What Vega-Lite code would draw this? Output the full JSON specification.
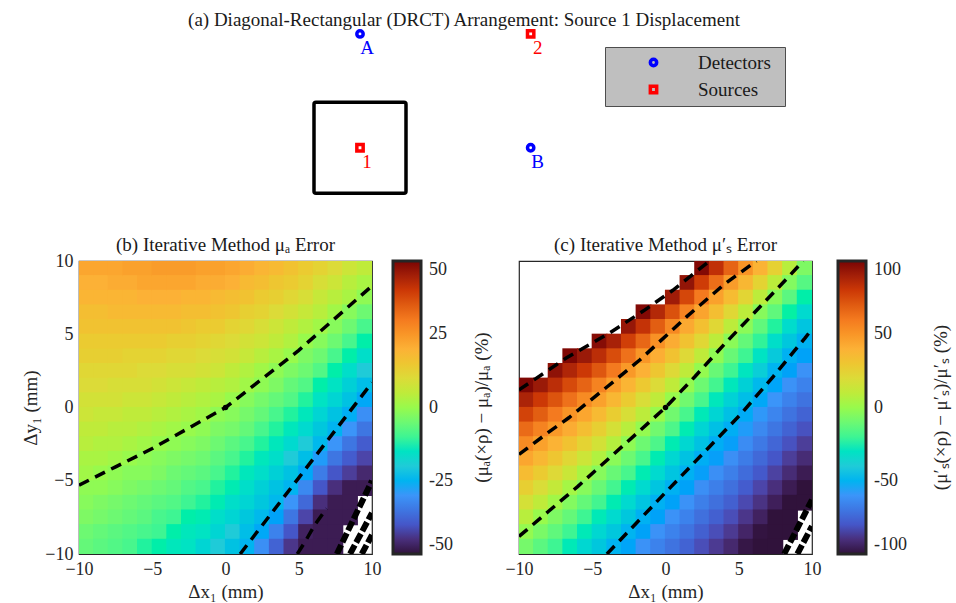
{
  "$schema": "https://vega.github.io/schema/vega-lite/v6.json",
  "padding": {"left": 21, "top": 10, "right": 0, "bottom": 0},
  "background": "white",
  "config": {
    "font": "Liberation Serif",
    "view": {"stroke": "#262626", "strokeWidth": 1.2},
    "axis": {"labelFont": "Liberation Serif", "labelFontSize": 18, "labelColor": "#262626", "titleFont": "Liberation Serif", "titleFontSize": 19, "titleFontWeight": "normal", "titleColor": "#262626", "ticks": false, "domain": false, "grid": false, "labelPadding": 6, "labelFlush": false, "labelOverlap": false},
    "legend": {"labelFont": "Liberation Serif", "labelFontSize": 18, "labelColor": "#262626", "titleFont": "Liberation Serif", "titleFontSize": 19, "titleFontWeight": "normal", "titleColor": "#262626"},
    "title": {"font": "Liberation Serif", "fontSize": 19, "fontWeight": "normal", "color": "#1a1a1a"}
  },
  "datasets": {
    "probes": [
      {"label": "A", "type": "Detectors", "x": 0, "y": 25},
      {"label": "B", "type": "Detectors", "x": 37.1, "y": 0},
      {"label": "1", "type": "Sources", "x": 0, "y": 0},
      {"label": "2", "type": "Sources", "x": 37.1, "y": 25}
    ],
    "b": [
      {"x":-9.5,"y":9.5,"v":22},{"x":-9.5,"y":8.5,"v":20},{"x":-9.5,"y":7.5,"v":19},{"x":-9.5,"y":6.5,"v":17},{"x":-9.5,"y":5.5,"v":16},{"x":-9.5,"y":4.5,"v":14},{"x":-9.5,"y":3.5,"v":13},{"x":-9.5,"y":2.5,"v":11},{"x":-9.5,"y":1.5,"v":10},{"x":-9.5,"y":0.5,"v":8},{"x":-9.5,"y":-0.5,"v":7},{"x":-9.5,"y":-1.5,"v":5},{"x":-9.5,"y":-2.5,"v":4},{"x":-9.5,"y":-3.5,"v":2},{"x":-9.5,"y":-4.5,"v":1},{"x":-9.5,"y":-5.5,"v":-1},{"x":-9.5,"y":-6.5,"v":-2},{"x":-9.5,"y":-7.5,"v":-3},{"x":-9.5,"y":-8.5,"v":-5},{"x":-9.5,"y":-9.5,"v":-6},
      {"x":-8.5,"y":9.5,"v":22},{"x":-8.5,"y":8.5,"v":20},{"x":-8.5,"y":7.5,"v":19},{"x":-8.5,"y":6.5,"v":17},{"x":-8.5,"y":5.5,"v":16},{"x":-8.5,"y":4.5,"v":14},{"x":-8.5,"y":3.5,"v":13},{"x":-8.5,"y":2.5,"v":11},{"x":-8.5,"y":1.5,"v":10},{"x":-8.5,"y":0.5,"v":8},{"x":-8.5,"y":-0.5,"v":6},{"x":-8.5,"y":-1.5,"v":5},{"x":-8.5,"y":-2.5,"v":3},{"x":-8.5,"y":-3.5,"v":2},{"x":-8.5,"y":-4.5,"v":0},{"x":-8.5,"y":-5.5,"v":-1},{"x":-8.5,"y":-6.5,"v":-3},{"x":-8.5,"y":-7.5,"v":-4},{"x":-8.5,"y":-8.5,"v":-6},{"x":-8.5,"y":-9.5,"v":-7},
      {"x":-7.5,"y":9.5,"v":22},{"x":-7.5,"y":8.5,"v":21},{"x":-7.5,"y":7.5,"v":19},{"x":-7.5,"y":6.5,"v":18},{"x":-7.5,"y":5.5,"v":16},{"x":-7.5,"y":4.5,"v":14},{"x":-7.5,"y":3.5,"v":13},{"x":-7.5,"y":2.5,"v":11},{"x":-7.5,"y":1.5,"v":9},{"x":-7.5,"y":0.5,"v":8},{"x":-7.5,"y":-0.5,"v":6},{"x":-7.5,"y":-1.5,"v":4},{"x":-7.5,"y":-2.5,"v":3},{"x":-7.5,"y":-3.5,"v":1},{"x":-7.5,"y":-4.5,"v":-1},{"x":-7.5,"y":-5.5,"v":-2},{"x":-7.5,"y":-6.5,"v":-4},{"x":-7.5,"y":-7.5,"v":-5},{"x":-7.5,"y":-8.5,"v":-7},{"x":-7.5,"y":-9.5,"v":-8},
      {"x":-6.5,"y":9.5,"v":23},{"x":-6.5,"y":8.5,"v":21},{"x":-6.5,"y":7.5,"v":19},{"x":-6.5,"y":6.5,"v":18},{"x":-6.5,"y":5.5,"v":16},{"x":-6.5,"y":4.5,"v":14},{"x":-6.5,"y":3.5,"v":12},{"x":-6.5,"y":2.5,"v":11},{"x":-6.5,"y":1.5,"v":9},{"x":-6.5,"y":0.5,"v":7},{"x":-6.5,"y":-0.5,"v":5},{"x":-6.5,"y":-1.5,"v":4},{"x":-6.5,"y":-2.5,"v":2},{"x":-6.5,"y":-3.5,"v":0},{"x":-6.5,"y":-4.5,"v":-2},{"x":-6.5,"y":-5.5,"v":-3},{"x":-6.5,"y":-6.5,"v":-5},{"x":-6.5,"y":-7.5,"v":-6},{"x":-6.5,"y":-8.5,"v":-8},{"x":-6.5,"y":-9.5,"v":-9},
      {"x":-5.5,"y":9.5,"v":23},{"x":-5.5,"y":8.5,"v":22},{"x":-5.5,"y":7.5,"v":20},{"x":-5.5,"y":6.5,"v":18},{"x":-5.5,"y":5.5,"v":16},{"x":-5.5,"y":4.5,"v":14},{"x":-5.5,"y":3.5,"v":12},{"x":-5.5,"y":2.5,"v":10},{"x":-5.5,"y":1.5,"v":9},{"x":-5.5,"y":0.5,"v":7},{"x":-5.5,"y":-0.5,"v":5},{"x":-5.5,"y":-1.5,"v":3},{"x":-5.5,"y":-2.5,"v":1},{"x":-5.5,"y":-3.5,"v":-1},{"x":-5.5,"y":-4.5,"v":-2},{"x":-5.5,"y":-5.5,"v":-4},{"x":-5.5,"y":-6.5,"v":-6},{"x":-5.5,"y":-7.5,"v":-7},{"x":-5.5,"y":-8.5,"v":-9},{"x":-5.5,"y":-9.5,"v":-11},
      {"x":-4.5,"y":9.5,"v":24},{"x":-4.5,"y":8.5,"v":22},{"x":-4.5,"y":7.5,"v":20},{"x":-4.5,"y":6.5,"v":18},{"x":-4.5,"y":5.5,"v":16},{"x":-4.5,"y":4.5,"v":14},{"x":-4.5,"y":3.5,"v":12},{"x":-4.5,"y":2.5,"v":10},{"x":-4.5,"y":1.5,"v":8},{"x":-4.5,"y":0.5,"v":6},{"x":-4.5,"y":-0.5,"v":4},{"x":-4.5,"y":-1.5,"v":2},{"x":-4.5,"y":-2.5,"v":0},{"x":-4.5,"y":-3.5,"v":-2},{"x":-4.5,"y":-4.5,"v":-3},{"x":-4.5,"y":-5.5,"v":-5},{"x":-4.5,"y":-6.5,"v":-7},{"x":-4.5,"y":-7.5,"v":-9},{"x":-4.5,"y":-8.5,"v":-10},{"x":-4.5,"y":-9.5,"v":-12},
      {"x":-3.5,"y":9.5,"v":24},{"x":-3.5,"y":8.5,"v":22},{"x":-3.5,"y":7.5,"v":20},{"x":-3.5,"y":6.5,"v":18},{"x":-3.5,"y":5.5,"v":16},{"x":-3.5,"y":4.5,"v":13},{"x":-3.5,"y":3.5,"v":11},{"x":-3.5,"y":2.5,"v":9},{"x":-3.5,"y":1.5,"v":7},{"x":-3.5,"y":0.5,"v":5},{"x":-3.5,"y":-0.5,"v":3},{"x":-3.5,"y":-1.5,"v":1},{"x":-3.5,"y":-2.5,"v":-1},{"x":-3.5,"y":-3.5,"v":-3},{"x":-3.5,"y":-4.5,"v":-5},{"x":-3.5,"y":-5.5,"v":-6},{"x":-3.5,"y":-6.5,"v":-8},{"x":-3.5,"y":-7.5,"v":-10},{"x":-3.5,"y":-8.5,"v":-12},{"x":-3.5,"y":-9.5,"v":-14},
      {"x":-2.5,"y":9.5,"v":24},{"x":-2.5,"y":8.5,"v":22},{"x":-2.5,"y":7.5,"v":19},{"x":-2.5,"y":6.5,"v":17},{"x":-2.5,"y":5.5,"v":15},{"x":-2.5,"y":4.5,"v":13},{"x":-2.5,"y":3.5,"v":11},{"x":-2.5,"y":2.5,"v":9},{"x":-2.5,"y":1.5,"v":6},{"x":-2.5,"y":0.5,"v":4},{"x":-2.5,"y":-0.5,"v":2},{"x":-2.5,"y":-1.5,"v":0},{"x":-2.5,"y":-2.5,"v":-2},{"x":-2.5,"y":-3.5,"v":-4},{"x":-2.5,"y":-4.5,"v":-6},{"x":-2.5,"y":-5.5,"v":-8},{"x":-2.5,"y":-6.5,"v":-10},{"x":-2.5,"y":-7.5,"v":-12},{"x":-2.5,"y":-8.5,"v":-14},{"x":-2.5,"y":-9.5,"v":-15},
      {"x":-1.5,"y":9.5,"v":23},{"x":-1.5,"y":8.5,"v":21},{"x":-1.5,"y":7.5,"v":19},{"x":-1.5,"y":6.5,"v":17},{"x":-1.5,"y":5.5,"v":14},{"x":-1.5,"y":4.5,"v":12},{"x":-1.5,"y":3.5,"v":10},{"x":-1.5,"y":2.5,"v":8},{"x":-1.5,"y":1.5,"v":5},{"x":-1.5,"y":0.5,"v":3},{"x":-1.5,"y":-0.5,"v":1},{"x":-1.5,"y":-1.5,"v":-1},{"x":-1.5,"y":-2.5,"v":-3},{"x":-1.5,"y":-3.5,"v":-5},{"x":-1.5,"y":-4.5,"v":-7},{"x":-1.5,"y":-5.5,"v":-9},{"x":-1.5,"y":-6.5,"v":-11},{"x":-1.5,"y":-7.5,"v":-13},{"x":-1.5,"y":-8.5,"v":-15},{"x":-1.5,"y":-9.5,"v":-18},
      {"x":-0.5,"y":9.5,"v":23},{"x":-0.5,"y":8.5,"v":21},{"x":-0.5,"y":7.5,"v":18},{"x":-0.5,"y":6.5,"v":16},{"x":-0.5,"y":5.5,"v":14},{"x":-0.5,"y":4.5,"v":11},{"x":-0.5,"y":3.5,"v":9},{"x":-0.5,"y":2.5,"v":7},{"x":-0.5,"y":1.5,"v":4},{"x":-0.5,"y":0.5,"v":2},{"x":-0.5,"y":-0.5,"v":-1},{"x":-0.5,"y":-1.5,"v":-3},{"x":-0.5,"y":-2.5,"v":-5},{"x":-0.5,"y":-3.5,"v":-7},{"x":-0.5,"y":-4.5,"v":-9},{"x":-0.5,"y":-5.5,"v":-11},{"x":-0.5,"y":-6.5,"v":-13},{"x":-0.5,"y":-7.5,"v":-16},{"x":-0.5,"y":-8.5,"v":-18},{"x":-0.5,"y":-9.5,"v":-20},
      {"x":0.5,"y":9.5,"v":22},{"x":0.5,"y":8.5,"v":20},{"x":0.5,"y":7.5,"v":17},{"x":0.5,"y":6.5,"v":15},{"x":0.5,"y":5.5,"v":12},{"x":0.5,"y":4.5,"v":10},{"x":0.5,"y":3.5,"v":8},{"x":0.5,"y":2.5,"v":5},{"x":0.5,"y":1.5,"v":3},{"x":0.5,"y":0.5,"v":0},{"x":0.5,"y":-0.5,"v":-2},{"x":0.5,"y":-1.5,"v":-4},{"x":0.5,"y":-2.5,"v":-7},{"x":0.5,"y":-3.5,"v":-9},{"x":0.5,"y":-4.5,"v":-11},{"x":0.5,"y":-5.5,"v":-13},{"x":0.5,"y":-6.5,"v":-16},{"x":0.5,"y":-7.5,"v":-18},{"x":0.5,"y":-8.5,"v":-20},{"x":0.5,"y":-9.5,"v":-22},
      {"x":1.5,"y":9.5,"v":21},{"x":1.5,"y":8.5,"v":18},{"x":1.5,"y":7.5,"v":16},{"x":1.5,"y":6.5,"v":13},{"x":1.5,"y":5.5,"v":11},{"x":1.5,"y":4.5,"v":8},{"x":1.5,"y":3.5,"v":6},{"x":1.5,"y":2.5,"v":3},{"x":1.5,"y":1.5,"v":1},{"x":1.5,"y":0.5,"v":-2},{"x":1.5,"y":-0.5,"v":-4},{"x":1.5,"y":-1.5,"v":-6},{"x":1.5,"y":-2.5,"v":-9},{"x":1.5,"y":-3.5,"v":-11},{"x":1.5,"y":-4.5,"v":-14},{"x":1.5,"y":-5.5,"v":-16},{"x":1.5,"y":-6.5,"v":-18},{"x":1.5,"y":-7.5,"v":-21},{"x":1.5,"y":-8.5,"v":-23},{"x":1.5,"y":-9.5,"v":-25},
      {"x":2.5,"y":9.5,"v":19},{"x":2.5,"y":8.5,"v":17},{"x":2.5,"y":7.5,"v":14},{"x":2.5,"y":6.5,"v":12},{"x":2.5,"y":5.5,"v":9},{"x":2.5,"y":4.5,"v":7},{"x":2.5,"y":3.5,"v":4},{"x":2.5,"y":2.5,"v":1},{"x":2.5,"y":1.5,"v":-1},{"x":2.5,"y":0.5,"v":-4},{"x":2.5,"y":-0.5,"v":-6},{"x":2.5,"y":-1.5,"v":-9},{"x":2.5,"y":-2.5,"v":-11},{"x":2.5,"y":-3.5,"v":-14},{"x":2.5,"y":-4.5,"v":-16},{"x":2.5,"y":-5.5,"v":-19},{"x":2.5,"y":-6.5,"v":-21},{"x":2.5,"y":-7.5,"v":-24},{"x":2.5,"y":-8.5,"v":-27},{"x":2.5,"y":-9.5,"v":-31},
      {"x":3.5,"y":9.5,"v":18},{"x":3.5,"y":8.5,"v":15},{"x":3.5,"y":7.5,"v":13},{"x":3.5,"y":6.5,"v":10},{"x":3.5,"y":5.5,"v":7},{"x":3.5,"y":4.5,"v":5},{"x":3.5,"y":3.5,"v":2},{"x":3.5,"y":2.5,"v":-1},{"x":3.5,"y":1.5,"v":-3},{"x":3.5,"y":0.5,"v":-6},{"x":3.5,"y":-0.5,"v":-9},{"x":3.5,"y":-1.5,"v":-11},{"x":3.5,"y":-2.5,"v":-14},{"x":3.5,"y":-3.5,"v":-16},{"x":3.5,"y":-4.5,"v":-19},{"x":3.5,"y":-5.5,"v":-22},{"x":3.5,"y":-6.5,"v":-24},{"x":3.5,"y":-7.5,"v":-28},{"x":3.5,"y":-8.5,"v":-33},{"x":3.5,"y":-9.5,"v":-38},
      {"x":4.5,"y":9.5,"v":16},{"x":4.5,"y":8.5,"v":14},{"x":4.5,"y":7.5,"v":11},{"x":4.5,"y":6.5,"v":8},{"x":4.5,"y":5.5,"v":5},{"x":4.5,"y":4.5,"v":3},{"x":4.5,"y":3.5,"v":0},{"x":4.5,"y":2.5,"v":-3},{"x":4.5,"y":1.5,"v":-6},{"x":4.5,"y":0.5,"v":-8},{"x":4.5,"y":-0.5,"v":-11},{"x":4.5,"y":-1.5,"v":-14},{"x":4.5,"y":-2.5,"v":-17},{"x":4.5,"y":-3.5,"v":-20},{"x":4.5,"y":-4.5,"v":-22},{"x":4.5,"y":-5.5,"v":-25},{"x":4.5,"y":-6.5,"v":-30},{"x":4.5,"y":-7.5,"v":-35},{"x":4.5,"y":-8.5,"v":-40},{"x":4.5,"y":-9.5,"v":-44},
      {"x":5.5,"y":9.5,"v":14},{"x":5.5,"y":8.5,"v":12},{"x":5.5,"y":7.5,"v":9},{"x":5.5,"y":6.5,"v":6},{"x":5.5,"y":5.5,"v":3},{"x":5.5,"y":4.5,"v":0},{"x":5.5,"y":3.5,"v":-3},{"x":5.5,"y":2.5,"v":-5},{"x":5.5,"y":1.5,"v":-8},{"x":5.5,"y":0.5,"v":-11},{"x":5.5,"y":-0.5,"v":-14},{"x":5.5,"y":-1.5,"v":-17},{"x":5.5,"y":-2.5,"v":-20},{"x":5.5,"y":-3.5,"v":-23},{"x":5.5,"y":-4.5,"v":-27},{"x":5.5,"y":-5.5,"v":-32},{"x":5.5,"y":-6.5,"v":-37},{"x":5.5,"y":-7.5,"v":-42},{"x":5.5,"y":-8.5,"v":-47},{"x":5.5,"y":-9.5,"v":-48},
      {"x":6.5,"y":9.5,"v":12},{"x":6.5,"y":8.5,"v":9},{"x":6.5,"y":7.5,"v":6},{"x":6.5,"y":6.5,"v":4},{"x":6.5,"y":5.5,"v":1},{"x":6.5,"y":4.5,"v":-2},{"x":6.5,"y":3.5,"v":-5},{"x":6.5,"y":2.5,"v":-8},{"x":6.5,"y":1.5,"v":-12},{"x":6.5,"y":0.5,"v":-15},{"x":6.5,"y":-0.5,"v":-18},{"x":6.5,"y":-1.5,"v":-21},{"x":6.5,"y":-2.5,"v":-24},{"x":6.5,"y":-3.5,"v":-29},{"x":6.5,"y":-4.5,"v":-34},{"x":6.5,"y":-5.5,"v":-40},{"x":6.5,"y":-6.5,"v":-45},{"x":6.5,"y":-7.5,"v":-48},{"x":6.5,"y":-8.5,"v":-48},{"x":6.5,"y":-9.5,"v":-48},
      {"x":7.5,"y":9.5,"v":10},{"x":7.5,"y":8.5,"v":7},{"x":7.5,"y":7.5,"v":4},{"x":7.5,"y":6.5,"v":1},{"x":7.5,"y":5.5,"v":-2},{"x":7.5,"y":4.5,"v":-5},{"x":7.5,"y":3.5,"v":-9},{"x":7.5,"y":2.5,"v":-12},{"x":7.5,"y":1.5,"v":-15},{"x":7.5,"y":0.5,"v":-18},{"x":7.5,"y":-0.5,"v":-22},{"x":7.5,"y":-1.5,"v":-25},{"x":7.5,"y":-2.5,"v":-30},{"x":7.5,"y":-3.5,"v":-35},{"x":7.5,"y":-4.5,"v":-40},{"x":7.5,"y":-5.5,"v":-45},{"x":7.5,"y":-6.5,"v":-48},{"x":7.5,"y":-7.5,"v":-48},{"x":7.5,"y":-8.5,"v":-48},{"x":7.5,"y":-9.5,"v":-48},
      {"x":8.5,"y":9.5,"v":7},{"x":8.5,"y":8.5,"v":4},{"x":8.5,"y":7.5,"v":2},{"x":8.5,"y":6.5,"v":-2},{"x":8.5,"y":5.5,"v":-5},{"x":8.5,"y":4.5,"v":-9},{"x":8.5,"y":3.5,"v":-12},{"x":8.5,"y":2.5,"v":-16},{"x":8.5,"y":1.5,"v":-19},{"x":8.5,"y":0.5,"v":-22},{"x":8.5,"y":-0.5,"v":-26},{"x":8.5,"y":-1.5,"v":-30},{"x":8.5,"y":-2.5,"v":-35},{"x":8.5,"y":-3.5,"v":-39},{"x":8.5,"y":-4.5,"v":-43},{"x":8.5,"y":-5.5,"v":-48},{"x":8.5,"y":-6.5,"v":-48},{"x":8.5,"y":-7.5,"v":-48},
      {"x":9.5,"y":9.5,"v":5},{"x":9.5,"y":8.5,"v":2},{"x":9.5,"y":7.5,"v":-1},{"x":9.5,"y":6.5,"v":-5},{"x":9.5,"y":5.5,"v":-9},{"x":9.5,"y":4.5,"v":-12},{"x":9.5,"y":3.5,"v":-16},{"x":9.5,"y":2.5,"v":-20},{"x":9.5,"y":1.5,"v":-23},{"x":9.5,"y":0.5,"v":-27},{"x":9.5,"y":-0.5,"v":-31},{"x":9.5,"y":-1.5,"v":-35},{"x":9.5,"y":-2.5,"v":-39},{"x":9.5,"y":-3.5,"v":-42},{"x":9.5,"y":-4.5,"v":-46},{"x":9.5,"y":-5.5,"v":-48}
    ],
    "c": [
      {"x":-9.5,"y":1.5,"v":99},{"x":-9.5,"y":0.5,"v":88},{"x":-9.5,"y":-0.5,"v":77},{"x":-9.5,"y":-1.5,"v":65},{"x":-9.5,"y":-2.5,"v":54},{"x":-9.5,"y":-3.5,"v":44},{"x":-9.5,"y":-4.5,"v":35},{"x":-9.5,"y":-5.5,"v":26},{"x":-9.5,"y":-6.5,"v":17},{"x":-9.5,"y":-7.5,"v":8},{"x":-9.5,"y":-8.5,"v":-1},{"x":-9.5,"y":-9.5,"v":-8},
      {"x":-8.5,"y":1.5,"v":92},{"x":-8.5,"y":0.5,"v":80},{"x":-8.5,"y":-0.5,"v":69},{"x":-8.5,"y":-1.5,"v":57},{"x":-8.5,"y":-2.5,"v":46},{"x":-8.5,"y":-3.5,"v":37},{"x":-8.5,"y":-4.5,"v":28},{"x":-8.5,"y":-5.5,"v":19},{"x":-8.5,"y":-6.5,"v":10},{"x":-8.5,"y":-7.5,"v":0},{"x":-8.5,"y":-8.5,"v":-7},{"x":-8.5,"y":-9.5,"v":-14},
      {"x":-7.5,"y":2.5,"v":95},{"x":-7.5,"y":1.5,"v":84},{"x":-7.5,"y":0.5,"v":72},{"x":-7.5,"y":-0.5,"v":60},{"x":-7.5,"y":-1.5,"v":49},{"x":-7.5,"y":-2.5,"v":39},{"x":-7.5,"y":-3.5,"v":30},{"x":-7.5,"y":-4.5,"v":21},{"x":-7.5,"y":-5.5,"v":11},{"x":-7.5,"y":-6.5,"v":2},{"x":-7.5,"y":-7.5,"v":-6},{"x":-7.5,"y":-8.5,"v":-13},{"x":-7.5,"y":-9.5,"v":-20},
      {"x":-6.5,"y":3.5,"v":99},{"x":-6.5,"y":2.5,"v":87},{"x":-6.5,"y":1.5,"v":75},{"x":-6.5,"y":0.5,"v":63},{"x":-6.5,"y":-0.5,"v":51},{"x":-6.5,"y":-1.5,"v":42},{"x":-6.5,"y":-2.5,"v":32},{"x":-6.5,"y":-3.5,"v":22},{"x":-6.5,"y":-4.5,"v":13},{"x":-6.5,"y":-5.5,"v":3},{"x":-6.5,"y":-6.5,"v":-5},{"x":-6.5,"y":-7.5,"v":-12},{"x":-6.5,"y":-8.5,"v":-20},{"x":-6.5,"y":-9.5,"v":-27},
      {"x":-5.5,"y":3.5,"v":92},{"x":-5.5,"y":2.5,"v":80},{"x":-5.5,"y":1.5,"v":67},{"x":-5.5,"y":0.5,"v":54},{"x":-5.5,"y":-0.5,"v":44},{"x":-5.5,"y":-1.5,"v":34},{"x":-5.5,"y":-2.5,"v":24},{"x":-5.5,"y":-3.5,"v":14},{"x":-5.5,"y":-4.5,"v":4},{"x":-5.5,"y":-5.5,"v":-4},{"x":-5.5,"y":-6.5,"v":-12},{"x":-5.5,"y":-7.5,"v":-20},{"x":-5.5,"y":-8.5,"v":-27},{"x":-5.5,"y":-9.5,"v":-35},
      {"x":-4.5,"y":4.5,"v":97},{"x":-4.5,"y":3.5,"v":84},{"x":-4.5,"y":2.5,"v":71},{"x":-4.5,"y":1.5,"v":57},{"x":-4.5,"y":0.5,"v":46},{"x":-4.5,"y":-0.5,"v":36},{"x":-4.5,"y":-1.5,"v":26},{"x":-4.5,"y":-2.5,"v":16},{"x":-4.5,"y":-3.5,"v":6},{"x":-4.5,"y":-4.5,"v":-4},{"x":-4.5,"y":-5.5,"v":-11},{"x":-4.5,"y":-6.5,"v":-19},{"x":-4.5,"y":-7.5,"v":-27},{"x":-4.5,"y":-8.5,"v":-35},{"x":-4.5,"y":-9.5,"v":-42},
      {"x":-3.5,"y":4.5,"v":89},{"x":-3.5,"y":3.5,"v":74},{"x":-3.5,"y":2.5,"v":60},{"x":-3.5,"y":1.5,"v":47},{"x":-3.5,"y":0.5,"v":37},{"x":-3.5,"y":-0.5,"v":27},{"x":-3.5,"y":-1.5,"v":17},{"x":-3.5,"y":-2.5,"v":7},{"x":-3.5,"y":-3.5,"v":-3},{"x":-3.5,"y":-4.5,"v":-11},{"x":-3.5,"y":-5.5,"v":-19},{"x":-3.5,"y":-6.5,"v":-26},{"x":-3.5,"y":-7.5,"v":-34},{"x":-3.5,"y":-8.5,"v":-42},{"x":-3.5,"y":-9.5,"v":-50},
      {"x":-2.5,"y":5.5,"v":93},{"x":-2.5,"y":4.5,"v":78},{"x":-2.5,"y":3.5,"v":63},{"x":-2.5,"y":2.5,"v":49},{"x":-2.5,"y":1.5,"v":38},{"x":-2.5,"y":0.5,"v":28},{"x":-2.5,"y":-0.5,"v":18},{"x":-2.5,"y":-1.5,"v":8},{"x":-2.5,"y":-2.5,"v":-2},{"x":-2.5,"y":-3.5,"v":-10},{"x":-2.5,"y":-4.5,"v":-18},{"x":-2.5,"y":-5.5,"v":-26},{"x":-2.5,"y":-6.5,"v":-34},{"x":-2.5,"y":-7.5,"v":-42},{"x":-2.5,"y":-8.5,"v":-50},{"x":-2.5,"y":-9.5,"v":-55},
      {"x":-1.5,"y":6.5,"v":98},{"x":-1.5,"y":5.5,"v":82},{"x":-1.5,"y":4.5,"v":66},{"x":-1.5,"y":3.5,"v":50},{"x":-1.5,"y":2.5,"v":40},{"x":-1.5,"y":1.5,"v":29},{"x":-1.5,"y":0.5,"v":19},{"x":-1.5,"y":-0.5,"v":9},{"x":-1.5,"y":-1.5,"v":-1},{"x":-1.5,"y":-2.5,"v":-10},{"x":-1.5,"y":-3.5,"v":-18},{"x":-1.5,"y":-4.5,"v":-26},{"x":-1.5,"y":-5.5,"v":-34},{"x":-1.5,"y":-6.5,"v":-43},{"x":-1.5,"y":-7.5,"v":-51},{"x":-1.5,"y":-8.5,"v":-56},{"x":-1.5,"y":-9.5,"v":-61},
      {"x":-0.5,"y":6.5,"v":86},{"x":-0.5,"y":5.5,"v":69},{"x":-0.5,"y":4.5,"v":52},{"x":-0.5,"y":3.5,"v":41},{"x":-0.5,"y":2.5,"v":30},{"x":-0.5,"y":1.5,"v":20},{"x":-0.5,"y":0.5,"v":10},{"x":-0.5,"y":-0.5,"v":0},{"x":-0.5,"y":-1.5,"v":-9},{"x":-0.5,"y":-2.5,"v":-17},{"x":-0.5,"y":-3.5,"v":-26},{"x":-0.5,"y":-4.5,"v":-34},{"x":-0.5,"y":-5.5,"v":-43},{"x":-0.5,"y":-6.5,"v":-51},{"x":-0.5,"y":-7.5,"v":-56},{"x":-0.5,"y":-8.5,"v":-61},{"x":-0.5,"y":-9.5,"v":-66},
      {"x":0.5,"y":7.5,"v":91},{"x":0.5,"y":6.5,"v":73},{"x":0.5,"y":5.5,"v":55},{"x":0.5,"y":4.5,"v":42},{"x":0.5,"y":3.5,"v":32},{"x":0.5,"y":2.5,"v":21},{"x":0.5,"y":1.5,"v":10},{"x":0.5,"y":0.5,"v":0},{"x":0.5,"y":-0.5,"v":-9},{"x":0.5,"y":-1.5,"v":-17},{"x":0.5,"y":-2.5,"v":-26},{"x":0.5,"y":-3.5,"v":-35},{"x":0.5,"y":-4.5,"v":-43},{"x":0.5,"y":-5.5,"v":-51},{"x":0.5,"y":-6.5,"v":-56},{"x":0.5,"y":-7.5,"v":-61},{"x":0.5,"y":-8.5,"v":-66},{"x":0.5,"y":-9.5,"v":-71},
      {"x":1.5,"y":8.5,"v":94},{"x":1.5,"y":7.5,"v":76},{"x":1.5,"y":6.5,"v":57},{"x":1.5,"y":5.5,"v":43},{"x":1.5,"y":4.5,"v":32},{"x":1.5,"y":3.5,"v":21},{"x":1.5,"y":2.5,"v":10},{"x":1.5,"y":1.5,"v":-1},{"x":1.5,"y":0.5,"v":-9},{"x":1.5,"y":-0.5,"v":-18},{"x":1.5,"y":-1.5,"v":-26},{"x":1.5,"y":-2.5,"v":-35},{"x":1.5,"y":-3.5,"v":-44},{"x":1.5,"y":-4.5,"v":-51},{"x":1.5,"y":-5.5,"v":-56},{"x":1.5,"y":-6.5,"v":-61},{"x":1.5,"y":-7.5,"v":-66},{"x":1.5,"y":-8.5,"v":-71},{"x":1.5,"y":-9.5,"v":-76},
      {"x":2.5,"y":9.5,"v":98},{"x":2.5,"y":8.5,"v":79},{"x":2.5,"y":7.5,"v":60},{"x":2.5,"y":6.5,"v":45},{"x":2.5,"y":5.5,"v":33},{"x":2.5,"y":4.5,"v":22},{"x":2.5,"y":3.5,"v":10},{"x":2.5,"y":2.5,"v":-1},{"x":2.5,"y":1.5,"v":-10},{"x":2.5,"y":0.5,"v":-18},{"x":2.5,"y":-0.5,"v":-27},{"x":2.5,"y":-1.5,"v":-36},{"x":2.5,"y":-2.5,"v":-44},{"x":2.5,"y":-3.5,"v":-52},{"x":2.5,"y":-4.5,"v":-57},{"x":2.5,"y":-5.5,"v":-62},{"x":2.5,"y":-6.5,"v":-67},{"x":2.5,"y":-7.5,"v":-72},{"x":2.5,"y":-8.5,"v":-77},{"x":2.5,"y":-9.5,"v":-82},
      {"x":3.5,"y":9.5,"v":83},{"x":3.5,"y":8.5,"v":64},{"x":3.5,"y":7.5,"v":46},{"x":3.5,"y":6.5,"v":34},{"x":3.5,"y":5.5,"v":22},{"x":3.5,"y":4.5,"v":9},{"x":3.5,"y":3.5,"v":-2},{"x":3.5,"y":2.5,"v":-11},{"x":3.5,"y":1.5,"v":-19},{"x":3.5,"y":0.5,"v":-28},{"x":3.5,"y":-0.5,"v":-36},{"x":3.5,"y":-1.5,"v":-45},{"x":3.5,"y":-2.5,"v":-52},{"x":3.5,"y":-3.5,"v":-57},{"x":3.5,"y":-4.5,"v":-62},{"x":3.5,"y":-5.5,"v":-67},{"x":3.5,"y":-6.5,"v":-72},{"x":3.5,"y":-7.5,"v":-77},{"x":3.5,"y":-8.5,"v":-82},{"x":3.5,"y":-9.5,"v":-87},
      {"x":4.5,"y":9.5,"v":67},{"x":4.5,"y":8.5,"v":48},{"x":4.5,"y":7.5,"v":35},{"x":4.5,"y":6.5,"v":22},{"x":4.5,"y":5.5,"v":9},{"x":4.5,"y":4.5,"v":-3},{"x":4.5,"y":3.5,"v":-11},{"x":4.5,"y":2.5,"v":-20},{"x":4.5,"y":1.5,"v":-28},{"x":4.5,"y":0.5,"v":-37},{"x":4.5,"y":-0.5,"v":-45},{"x":4.5,"y":-1.5,"v":-52},{"x":4.5,"y":-2.5,"v":-57},{"x":4.5,"y":-3.5,"v":-62},{"x":4.5,"y":-4.5,"v":-67},{"x":4.5,"y":-5.5,"v":-72},{"x":4.5,"y":-6.5,"v":-77},{"x":4.5,"y":-7.5,"v":-82},{"x":4.5,"y":-8.5,"v":-87},{"x":4.5,"y":-9.5,"v":-92},
      {"x":5.5,"y":9.5,"v":51},{"x":5.5,"y":8.5,"v":37},{"x":5.5,"y":7.5,"v":23},{"x":5.5,"y":6.5,"v":9},{"x":5.5,"y":5.5,"v":-3},{"x":5.5,"y":4.5,"v":-12},{"x":5.5,"y":3.5,"v":-20},{"x":5.5,"y":2.5,"v":-29},{"x":5.5,"y":1.5,"v":-38},{"x":5.5,"y":0.5,"v":-46},{"x":5.5,"y":-0.5,"v":-53},{"x":5.5,"y":-1.5,"v":-58},{"x":5.5,"y":-2.5,"v":-63},{"x":5.5,"y":-3.5,"v":-68},{"x":5.5,"y":-4.5,"v":-73},{"x":5.5,"y":-5.5,"v":-78},{"x":5.5,"y":-6.5,"v":-83},{"x":5.5,"y":-7.5,"v":-88},{"x":5.5,"y":-8.5,"v":-93},{"x":5.5,"y":-9.5,"v":-98},
      {"x":6.5,"y":9.5,"v":39},{"x":6.5,"y":8.5,"v":24},{"x":6.5,"y":7.5,"v":9},{"x":6.5,"y":6.5,"v":-4},{"x":6.5,"y":5.5,"v":-13},{"x":6.5,"y":4.5,"v":-21},{"x":6.5,"y":3.5,"v":-30},{"x":6.5,"y":2.5,"v":-39},{"x":6.5,"y":1.5,"v":-48},{"x":6.5,"y":0.5,"v":-54},{"x":6.5,"y":-0.5,"v":-59},{"x":6.5,"y":-1.5,"v":-64},{"x":6.5,"y":-2.5,"v":-69},{"x":6.5,"y":-3.5,"v":-74},{"x":6.5,"y":-4.5,"v":-79},{"x":6.5,"y":-5.5,"v":-84},{"x":6.5,"y":-6.5,"v":-89},{"x":6.5,"y":-7.5,"v":-94},{"x":6.5,"y":-8.5,"v":-99},{"x":6.5,"y":-9.5,"v":-100},
      {"x":7.5,"y":9.5,"v":25},{"x":7.5,"y":8.5,"v":9},{"x":7.5,"y":7.5,"v":-4},{"x":7.5,"y":6.5,"v":-13},{"x":7.5,"y":5.5,"v":-22},{"x":7.5,"y":4.5,"v":-32},{"x":7.5,"y":3.5,"v":-41},{"x":7.5,"y":2.5,"v":-50},{"x":7.5,"y":1.5,"v":-55},{"x":7.5,"y":0.5,"v":-60},{"x":7.5,"y":-0.5,"v":-65},{"x":7.5,"y":-1.5,"v":-70},{"x":7.5,"y":-2.5,"v":-75},{"x":7.5,"y":-3.5,"v":-80},{"x":7.5,"y":-4.5,"v":-85},{"x":7.5,"y":-5.5,"v":-90},{"x":7.5,"y":-6.5,"v":-95},{"x":7.5,"y":-7.5,"v":-100},{"x":7.5,"y":-8.5,"v":-100},{"x":7.5,"y":-9.5,"v":-100},
      {"x":8.5,"y":9.5,"v":8},{"x":8.5,"y":8.5,"v":-5},{"x":8.5,"y":7.5,"v":-14},{"x":8.5,"y":6.5,"v":-23},{"x":8.5,"y":5.5,"v":-33},{"x":8.5,"y":4.5,"v":-42},{"x":8.5,"y":3.5,"v":-51},{"x":8.5,"y":2.5,"v":-56},{"x":8.5,"y":1.5,"v":-61},{"x":8.5,"y":0.5,"v":-66},{"x":8.5,"y":-0.5,"v":-71},{"x":8.5,"y":-1.5,"v":-76},{"x":8.5,"y":-2.5,"v":-81},{"x":8.5,"y":-3.5,"v":-86},{"x":8.5,"y":-4.5,"v":-91},{"x":8.5,"y":-5.5,"v":-96},{"x":8.5,"y":-6.5,"v":-100},{"x":8.5,"y":-7.5,"v":-100},{"x":8.5,"y":-8.5,"v":-100},
      {"x":9.5,"y":9.5,"v":-6},{"x":9.5,"y":8.5,"v":-15},{"x":9.5,"y":7.5,"v":-24},{"x":9.5,"y":6.5,"v":-34},{"x":9.5,"y":5.5,"v":-43},{"x":9.5,"y":4.5,"v":-51},{"x":9.5,"y":3.5,"v":-56},{"x":9.5,"y":2.5,"v":-61},{"x":9.5,"y":1.5,"v":-66},{"x":9.5,"y":0.5,"v":-71},{"x":9.5,"y":-0.5,"v":-76},{"x":9.5,"y":-1.5,"v":-81},{"x":9.5,"y":-2.5,"v":-86},{"x":9.5,"y":-3.5,"v":-91},{"x":9.5,"y":-4.5,"v":-96},{"x":9.5,"y":-5.5,"v":-100},{"x":9.5,"y":-6.5,"v":-100}
    ],
    "bl": [
      {"c":"0","x":-10,"y":-5.3},{"c":"0","x":-7.5,"y":-4.05},{"c":"0","x":-5,"y":-2.8},{"c":"0","x":-2.5,"y":-1.4},{"c":"0","x":0,"y":0},{"c":"0","x":2.5,"y":1.95},{"c":"0","x":5,"y":3.9},{"c":"0","x":7.5,"y":6.1},{"c":"0","x":10,"y":8.3},
      {"c":"-25","x":1,"y":-10},{"c":"-25","x":3,"y":-7.4},{"c":"-25","x":5,"y":-4.8},{"c":"-25","x":7,"y":-2.2},{"c":"-25","x":10,"y":1.7},
      {"c":"-50","x":4.9,"y":-10},{"c":"-50","x":5.5,"y":-9.05},{"c":"-50","x":6.1,"y":-8.0},{"c":"-50","x":6.9,"y":-6.9}
    ],
    "bk": [
      {"c":"k1","x":7.6,"y":-10},{"c":"k1","x":10,"y":-5.0},
      {"c":"k2","x":8.5,"y":-10},{"c":"k2","x":10,"y":-7.2},
      {"c":"k3","x":9.3,"y":-10},{"c":"k3","x":10,"y":-8.7}
    ],
    "cl": [
      {"c":"100","x":-10,"y":1.2},{"c":"100","x":-8,"y":2.55},{"c":"100","x":-6.75,"y":3.4},{"c":"100","x":-5,"y":4.4},{"c":"100","x":-3.8,"y":5.1},{"c":"100","x":-1.5,"y":6.6},{"c":"100","x":0.5,"y":8.0},{"c":"100","x":2,"y":9.2},{"c":"100","x":3,"y":10},
      {"c":"50","x":-10,"y":-3.2},{"c":"50","x":-8,"y":-1.7},{"c":"50","x":-6.6,"y":-0.7},{"c":"50","x":-4,"y":1.4},{"c":"50","x":-1.74,"y":3.26},{"c":"50","x":1.45,"y":6.2},{"c":"50","x":4,"y":8.4},{"c":"50","x":6.2,"y":10},
      {"c":"0","x":-10,"y":-8.8},{"c":"0","x":-8,"y":-7.1},{"c":"0","x":-6,"y":-5.4},{"c":"0","x":-4,"y":-3.6},{"c":"0","x":-2,"y":-1.8},{"c":"0","x":0,"y":0},{"c":"0","x":2,"y":2.1},{"c":"0","x":4,"y":4.3},{"c":"0","x":6,"y":6.4},{"c":"0","x":8,"y":8.5},{"c":"0","x":9.4,"y":10},
      {"c":"-50","x":-4,"y":-10},{"c":"-50","x":0,"y":-5.8},{"c":"-50","x":2.5,"y":-3.2},{"c":"-50","x":5.1,"y":-0.5},{"c":"-50","x":7.37,"y":2.13},{"c":"-50","x":9.52,"y":4.74},{"c":"-50","x":10,"y":5.35}
    ],
    "ck": [
      {"c":"k1","x":8.1,"y":-10},{"c":"k1","x":10,"y":-6.3},
      {"c":"k2","x":9.0,"y":-10},{"c":"k2","x":10,"y":-8.1}
    ],
    "origin": [{"x":0,"y":0}]
  },
  "spacing": 35,
  "vconcat": [
    {
      "width": 860,
      "height": 170,
      "title": {"text": "(a) Diagonal-Rectangular (DRCT) Arrangement: Source 1 Displacement", "anchor": "middle", "frame": "group", "dx": -45, "offset": -6},
      "view": {"stroke": null},
      "layer": [
        {
          "data": {"values": [{"x": -10, "x2": 10, "y": -10, "y2": 10}]},
          "mark": {"type": "rect", "filled": false, "stroke": "black", "strokeWidth": 3.5, "cornerRadius": 2},
          "encoding": {
            "x": {"field": "x", "type": "quantitative", "scale": {"domain": [-61.087, 125.87], "nice": false, "zero": false}, "axis": null},
            "x2": {"field": "x2"},
            "y": {"field": "y", "type": "quantitative", "scale": {"domain": [-11.49, 25.87], "nice": false, "zero": false}, "axis": null},
            "y2": {"field": "y2"}
          }
        },
        {
          "data": {"name": "probes"},
          "mark": {"type": "point", "filled": false, "strokeWidth": 3.5, "size": 40, "opacity": 1},
          "encoding": {
            "x": {"field": "x", "type": "quantitative"},
            "y": {"field": "y", "type": "quantitative"},
            "shape": {"field": "type", "type": "nominal", "scale": {"domain": ["Detectors", "Sources"], "range": ["circle", "square"]}, "legend": {"title": "\u00a0\u00a0\u00a0\u00a0\u00a0", "titleOrient": "right", "titlePadding": 8, "orient": "none", "legendX": 526, "legendY": 17, "fillColor": "#bfbfbf", "strokeColor": "#4d4d4d", "padding": 6, "rowPadding": 6, "symbolOffset": 33, "labelOffset": 35, "labelFontSize": 19, "labelColor": "#1a1a1a", "symbolStrokeWidth": 3.5, "symbolSize": 40, "encode": {"legend": {"update": {"strokeWidth": {"value": 3}}}, "symbols": {"update": {"fill": {"value": "white"}, "strokeWidth": {"value": 3.5}}}}}},
            "color": {"field": "type", "type": "nominal", "scale": {"domain": ["Detectors", "Sources"], "range": ["#0000ff", "#ff0000"]}, "legend": {"title": "\u00a0\u00a0\u00a0\u00a0\u00a0", "titleOrient": "right", "titlePadding": 8, "orient": "none", "legendX": 526, "legendY": 17, "fillColor": "#bfbfbf", "strokeColor": "#4d4d4d", "padding": 6, "rowPadding": 6, "symbolOffset": 33, "labelOffset": 35, "labelFontSize": 19, "labelColor": "#1a1a1a", "symbolStrokeWidth": 3.5, "symbolSize": 40, "encode": {"legend": {"update": {"strokeWidth": {"value": 3}}}, "symbols": {"update": {"fill": {"value": "white"}, "strokeWidth": {"value": 3.5}}}}}}
          }
        },
        {
          "data": {"name": "probes"},
          "mark": {"type": "text", "fontSize": 19, "dx": 7, "dy": 14, "font": "Liberation Serif"},
          "encoding": {
            "x": {"field": "x", "type": "quantitative"},
            "y": {"field": "y", "type": "quantitative"},
            "text": {"field": "label"},
            "color": {"condition": {"test": "datum.type === 'Detectors'", "value": "#0000ff"}, "value": "#ff0000"}
          }
        }
      ]
    },
    {
      "hconcat": [
        {
          "width": 293,
          "height": 293,
          "title": {"text": "(b) Iterative Method μₐ Error", "frame": "group", "offset": -3},
          "layer": [
            {
              "data": {"name": "b"},
              "mark": {"type": "point", "shape": "square", "filled": true, "size": 250, "opacity": 1, "strokeWidth": 0, "clip": true},
              "encoding": {
                "x": {"field": "x", "type": "quantitative", "scale": {"domain": [-10, 10], "nice": false, "zero": false}, "axis": {"title": "Δx₁ (mm)", "values": [-10, -5, 0, 5, 10], "labelExpr": "datum.value < 0 ? '−' + abs(datum.value) : '' + datum.value"}},
                "y": {"field": "y", "type": "quantitative", "scale": {"domain": [-10, 10], "nice": false, "zero": false}, "axis": {"title": "Δy₁ (mm)", "values": [-10, -5, 0, 5, 10], "labelExpr": "datum.value < 0 ? '−' + abs(datum.value) : '' + datum.value"}},
                "color": {"field": "v", "type": "quantitative", "scale": {"domain": [-50, -40, -30, -20, -10, 0, 10, 20, 30, 40, 50], "range": ["#30123b", "#4556c8", "#3b95f9", "#1fcbd8", "#3ef593", "#98fa4c", "#dcdb38", "#fcb136", "#f47a1f", "#cc3806", "#7a0403"], "clamp": true}, "legend": {"type": "gradient", "title": null, "orient": "right", "offset": 21, "direction": "vertical", "gradientLength": 293, "gradientThickness": 28, "gradientStrokeColor": "#262626", "gradientStrokeWidth": 3, "values": [-50, -25, 0, 25, 50], "labelOffset": 8, "labelOverlap": false, "labelExpr": "datum.value < 0 ? '-' + abs(datum.value) : '' + datum.value"}}
              }
            },
            {
              "data": {"name": "bl"},
              "mark": {"type": "line", "color": "black", "strokeWidth": 3.5, "strokeDash": [11, 7], "clip": true},
              "encoding": {"x": {"field": "x", "type": "quantitative"}, "y": {"field": "y", "type": "quantitative"}, "detail": {"field": "c", "type": "nominal"}}
            },
            {
              "data": {"name": "bk"},
              "mark": {"type": "line", "color": "black", "strokeWidth": 6, "strokeDash": [10, 3], "clip": true},
              "encoding": {"x": {"field": "x", "type": "quantitative"}, "y": {"field": "y", "type": "quantitative"}, "detail": {"field": "c", "type": "nominal"}}
            },
            {
              "data": {"name": "origin"},
              "mark": {"type": "point", "filled": true, "color": "black", "size": 30, "opacity": 1},
              "encoding": {"x": {"field": "x", "type": "quantitative"}, "y": {"field": "y", "type": "quantitative"}}
            },
            {
              "data": {"name": "origin"},
              "mark": {"type": "text", "text": "(μₐ(×ρ) − μₐ)/μₐ (%)", "angle": 270, "align": "center", "baseline": "middle", "fontSize": 19, "font": "Liberation Serif", "color": "#262626"},
              "encoding": {"x": {"datum": 17.5}, "y": {"datum": 0}}
            }
          ]
        },
        {
          "width": 293,
          "height": 293,
          "title": {"text": "(c) Iterative Method μ′ₛ Error", "frame": "group", "offset": 6},
          "layer": [
            {
              "data": {"name": "c"},
              "mark": {"type": "point", "shape": "square", "filled": true, "size": 250, "opacity": 1, "strokeWidth": 0, "clip": true},
              "encoding": {
                "x": {"field": "x", "type": "quantitative", "scale": {"domain": [-10, 10], "nice": false, "zero": false}, "axis": {"title": "Δx₁ (mm)", "values": [-10, -5, 0, 5, 10], "labelExpr": "datum.value < 0 ? '−' + abs(datum.value) : '' + datum.value"}},
                "y": {"field": "y", "type": "quantitative", "scale": {"domain": [-10, 10], "nice": false, "zero": false}, "axis": null},
                "color": {"field": "v", "type": "quantitative", "scale": {"domain": [-100, -80, -60, -40, -20, 0, 20, 40, 60, 80, 100], "range": ["#30123b", "#4556c8", "#3b95f9", "#1fcbd8", "#3ef593", "#98fa4c", "#dcdb38", "#fcb136", "#f47a1f", "#cc3806", "#7a0403"], "clamp": true}, "legend": {"type": "gradient", "title": null, "orient": "right", "offset": 26, "direction": "vertical", "gradientLength": 293, "gradientThickness": 28, "gradientStrokeColor": "#262626", "gradientStrokeWidth": 3, "values": [-100, -50, 0, 50, 100], "labelOffset": 8, "labelOverlap": false, "labelExpr": "datum.value < 0 ? '-' + abs(datum.value) : '' + datum.value"}}
              }
            },
            {
              "data": {"name": "cl"},
              "mark": {"type": "line", "color": "black", "strokeWidth": 3.5, "strokeDash": [11, 7], "clip": true},
              "encoding": {"x": {"field": "x", "type": "quantitative"}, "y": {"field": "y", "type": "quantitative"}, "detail": {"field": "c", "type": "nominal"}}
            },
            {
              "data": {"name": "ck"},
              "mark": {"type": "line", "color": "black", "strokeWidth": 6, "strokeDash": [10, 3], "clip": true},
              "encoding": {"x": {"field": "x", "type": "quantitative"}, "y": {"field": "y", "type": "quantitative"}, "detail": {"field": "c", "type": "nominal"}}
            },
            {
              "data": {"name": "origin"},
              "mark": {"type": "point", "filled": true, "color": "black", "size": 30, "opacity": 1},
              "encoding": {"x": {"field": "x", "type": "quantitative"}, "y": {"field": "y", "type": "quantitative"}}
            },
            {
              "data": {"name": "origin"},
              "mark": {"type": "text", "text": "(μ′ₛ(×ρ) − μ′ₛ)/μ′ₛ (%)", "angle": 270, "align": "center", "baseline": "middle", "fontSize": 19, "font": "Liberation Serif", "color": "#262626"},
              "encoding": {"x": {"datum": 18.8}, "y": {"datum": 0}}
            }
          ]
        }
      ],
      "spacing": 11,
      "resolve": {"scale": {"color": "independent", "x": "independent", "y": "independent"}, "legend": {"color": "independent"}}
    }
  ]
}
